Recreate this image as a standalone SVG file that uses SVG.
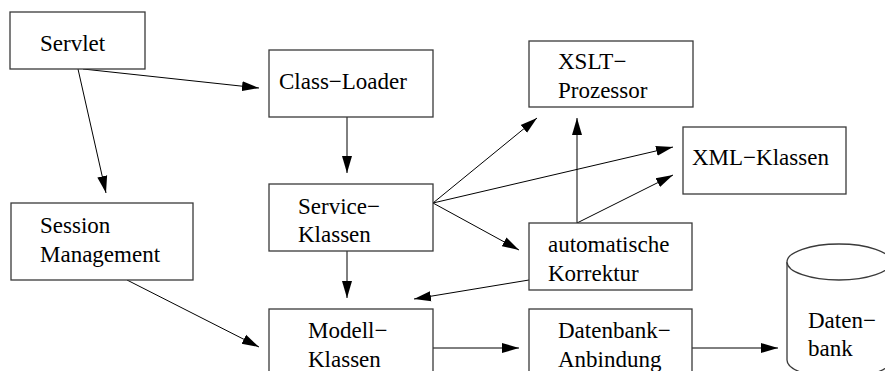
<svg xmlns="http://www.w3.org/2000/svg" width="885" height="371" viewBox="0 0 885 371">
  <style>
    .box { fill: #ffffff; stroke: #3a3a3a; stroke-width: 1.3; }
    .lbl { font-family: "Liberation Serif", "Times New Roman", serif; font-size: 23px; fill: #000000; }
    .edge { fill: none; stroke: #000000; stroke-width: 1; marker-end: url(#arrow); }
  </style>
  <defs>
    <marker id="arrow" markerUnits="userSpaceOnUse" viewBox="-17 -6 18 12" refX="0" refY="0" markerWidth="18" markerHeight="12" orient="auto">
      <path d="M0,0 L-17,-5 L-17,5 Z" fill="#000000"/>
    </marker>
  </defs>
  <rect width="885" height="371" fill="#ffffff"/>

  <g id="connectors">
    <line class="edge" x1="83" y1="69" x2="259" y2="88"/>
    <line class="edge" x1="78" y1="69" x2="106" y2="193"/>
    <line class="edge" x1="347" y1="117" x2="347" y2="173"/>
    <line class="edge" x1="347" y1="251" x2="347" y2="298"/>
    <line class="edge" x1="433" y1="203" x2="537" y2="118"/>
    <line class="edge" x1="433" y1="203" x2="673" y2="147"/>
    <line class="edge" x1="433" y1="203" x2="519" y2="250"/>
    <line class="edge" x1="577" y1="223" x2="577" y2="118"/>
    <line class="edge" x1="577" y1="223" x2="673" y2="175"/>
    <line class="edge" x1="529" y1="280" x2="414" y2="299"/>
    <line class="edge" x1="127" y1="280" x2="259" y2="347"/>
    <line class="edge" x1="433" y1="348" x2="519" y2="348"/>
    <line class="edge" x1="692" y1="348" x2="778" y2="348"/>
  </g>

  <g id="servlet">
    <rect class="box" x="10" y="12" width="135" height="57"/>
    <text class="lbl" x="40" y="51">Servlet</text>
  </g>
  <g id="class-loader">
    <rect class="box" x="269" y="50" width="164" height="67"/>
    <text class="lbl" x="279" y="89">Class−Loader</text>
  </g>
  <g id="xslt-prozessor">
    <rect class="box" x="529" y="41" width="164" height="66"/>
    <text class="lbl" x="558" y="69">XSLT−</text>
    <text class="lbl" x="558" y="98">Prozessor</text>
  </g>
  <g id="xml-klassen">
    <rect class="box" x="683" y="127" width="163" height="67"/>
    <text class="lbl" x="692" y="165">XML−Klassen</text>
  </g>
  <g id="session-management">
    <rect class="box" x="11" y="203" width="182" height="77"/>
    <text class="lbl" x="40" y="233">Session</text>
    <text class="lbl" x="40" y="262">Management</text>
  </g>
  <g id="service-klassen">
    <rect class="box" x="269" y="184" width="164" height="67"/>
    <text class="lbl" x="298" y="214">Service−</text>
    <text class="lbl" x="298" y="242">Klassen</text>
  </g>
  <g id="automatische-korrektur">
    <rect class="box" x="529" y="223" width="163" height="67"/>
    <text class="lbl" x="548" y="252">automatische</text>
    <text class="lbl" x="548" y="281">Korrektur</text>
  </g>
  <g id="modell-klassen">
    <rect class="box" x="269" y="309" width="164" height="80"/>
    <text class="lbl" x="308" y="338">Modell−</text>
    <text class="lbl" x="308" y="367">Klassen</text>
  </g>
  <g id="datenbank-anbindung">
    <rect class="box" x="529" y="309" width="163" height="80"/>
    <text class="lbl" x="558" y="338">Datenbank−</text>
    <text class="lbl" x="558" y="367">Anbindung</text>
  </g>
  <g id="datenbank">
    <path class="box" d="M787,262 L787,360 A52,18 0 0 0 891,360 L891,262" />
    <ellipse class="box" cx="839" cy="262" rx="52" ry="18"/>
    <text class="lbl" x="808" y="328">Daten−</text>
    <text class="lbl" x="808" y="356">bank</text>
  </g>
</svg>
